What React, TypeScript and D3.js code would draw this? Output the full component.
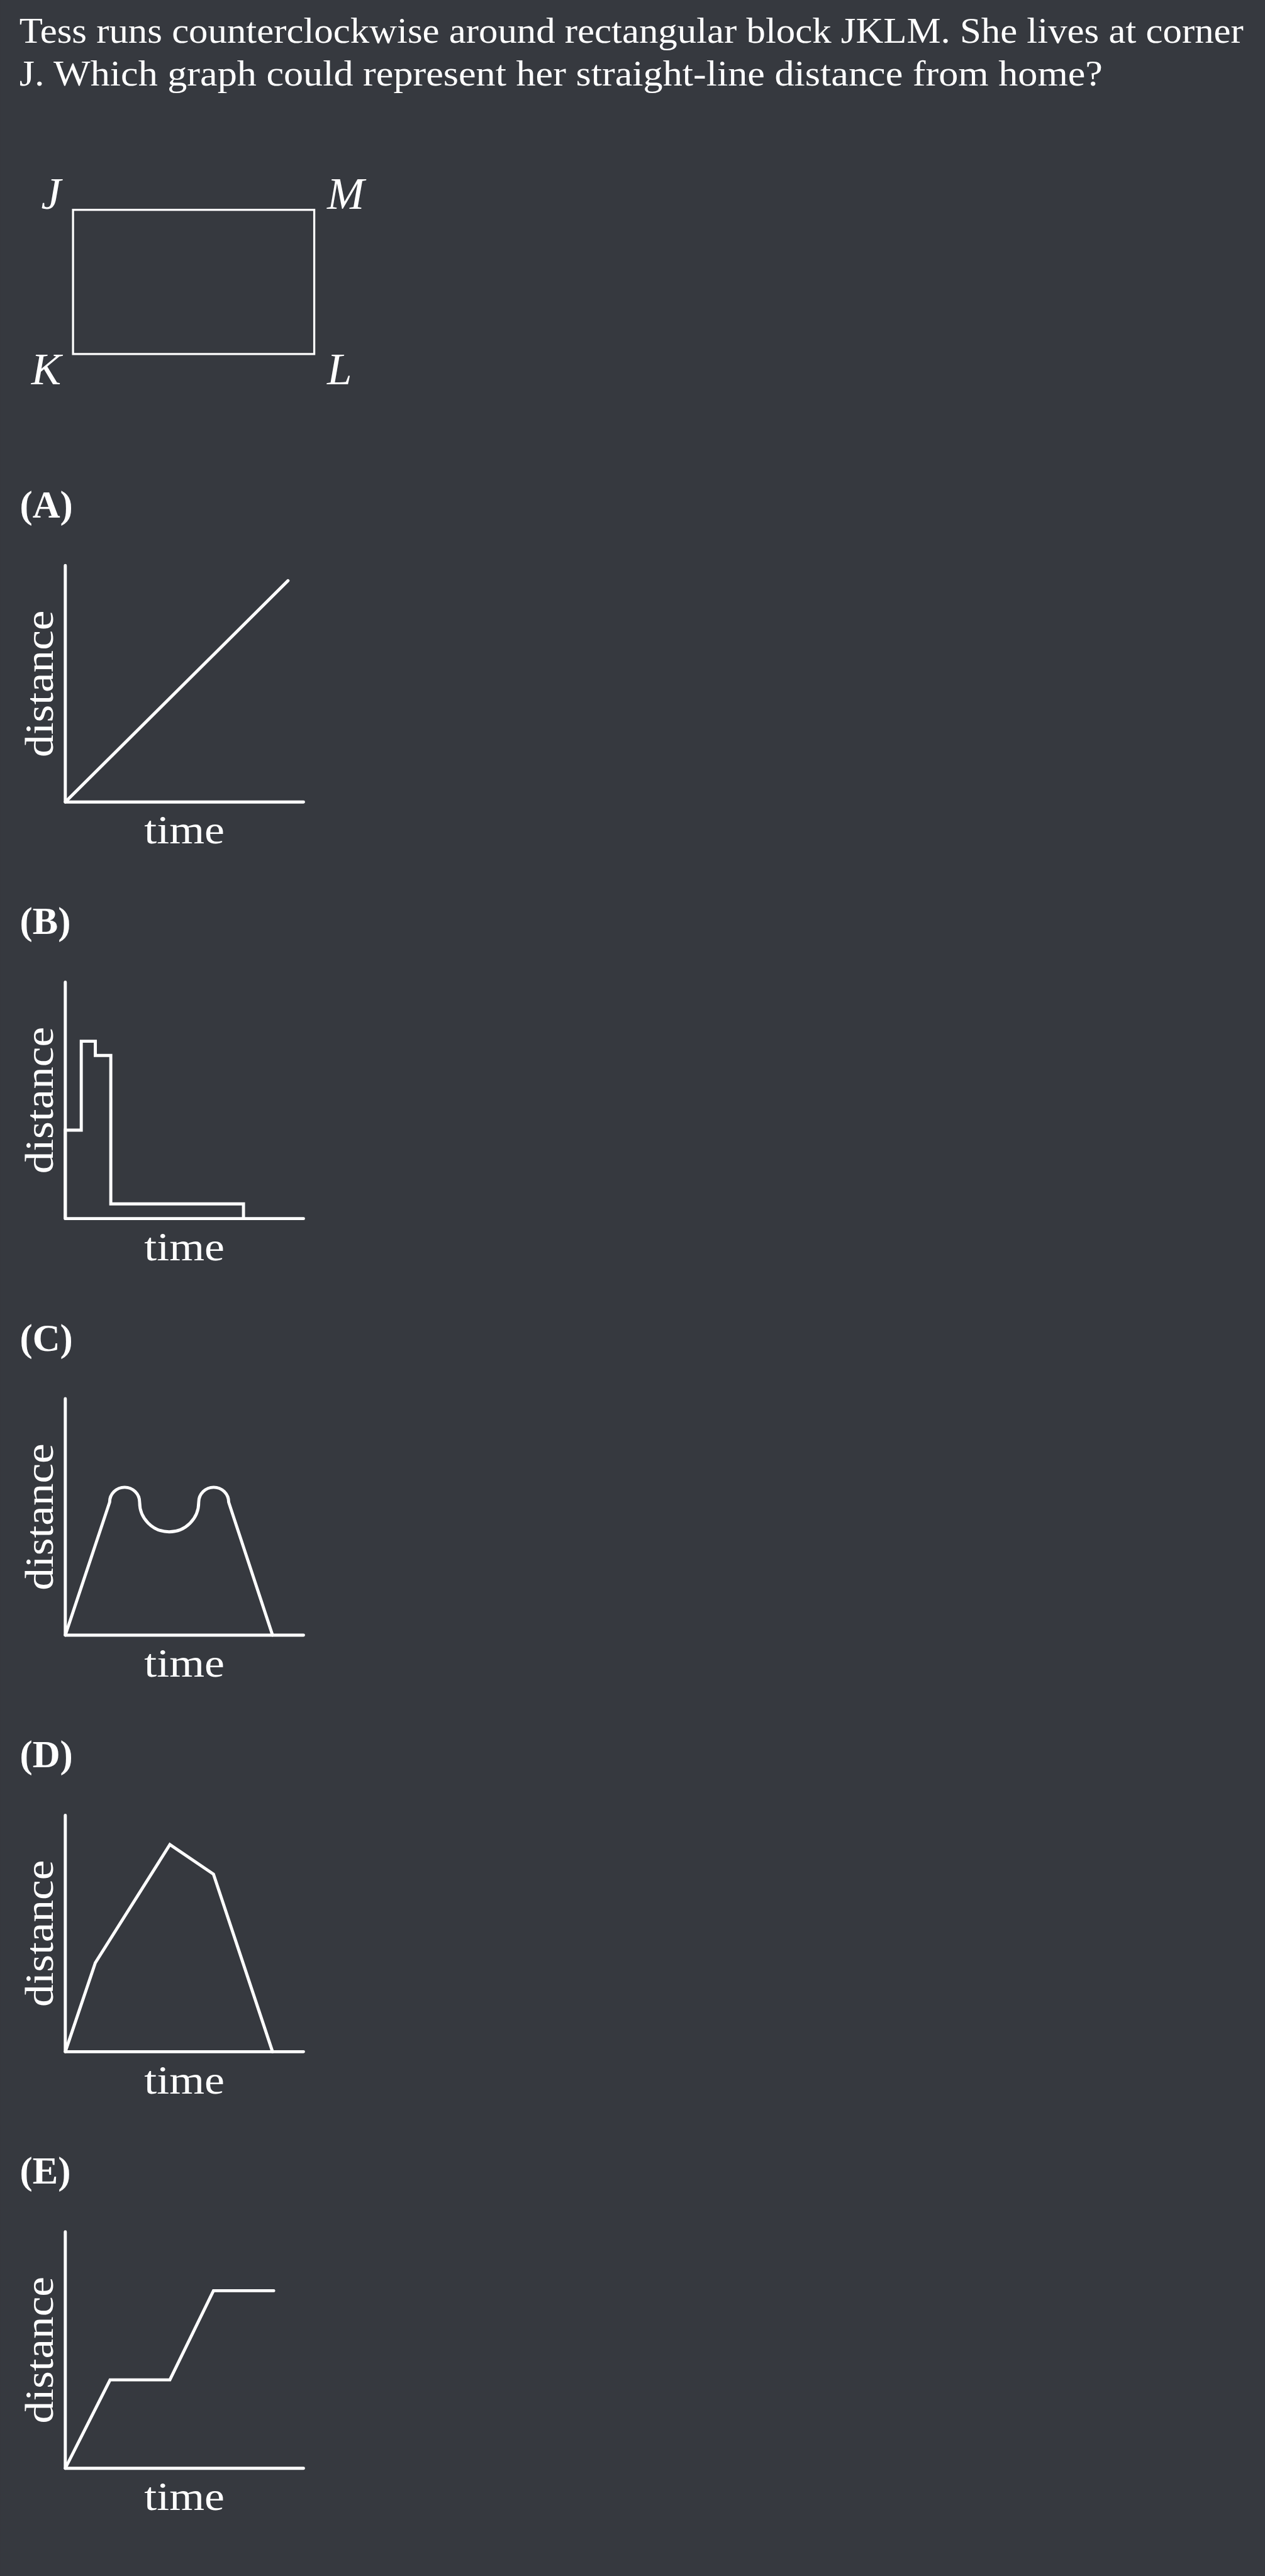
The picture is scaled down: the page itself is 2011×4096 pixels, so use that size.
import React, { useEffect } from 'react';
import * as d3 from 'd3';

// everything is laid out in the reference's own pixel space and scaled by the viewBox
const REF_W = 2947;
const REF_H = 6003;
const OUT_W = 2011;
const OUT_H = 4096;

const BG = '#36393f';
const INK = '#ffffff';
const FONT = '"Liberation Serif", "DejaVu Serif", serif';

const QUESTION = [
  'Tess runs counterclockwise around rectangular block JKLM. She lives at corner',
  'J. Which graph could represent her straight-line distance from home?',
];

// block corners, unit coordinates (x right, y up)
const CORNER_NAMES = ['J', 'K', 'L', 'M'];
const CORNER_UNIT = [[0, 1], [0, 0], [1, 0], [1, 1]];

const OPTIONS = ['(A)', '(B)', '(C)', '(D)', '(E)'];
const X_TITLE = 'time';
const Y_TITLE = 'distance';

// curves, in percent of axis length (time, distance)
const SERIES_A = [[0, 0], [93.5, 93.6]];
const SERIES_B = [
  [0, 0], [0, 37.4], [6.7, 37.4], [6.7, 75.0], [12.6, 75.0], [12.6, 69.0],
  [19.1, 69.0], [19.1, 6.2], [74.8, 6.2], [74.8, 0],
];
const C_RISE = [[0, 0], [18.6, 56.2]];
// semicircles sitting on the level of C_RISE's end point
const C_ARCS = [
  { from: 18.6, to: 31.2, bulge: 'up' },
  { from: 31.2, to: 56.0, bulge: 'down' },
  { from: 56.0, to: 68.6, bulge: 'up' },
];
const C_FALL = [[68.6, 56.2], [87.0, 0]];
const SERIES_D = [[0, 0], [12.6, 37.6], [43.9, 87.6], [62.2, 75.1], [87.0, 0]];
const SERIES_E = [[0, 0], [18.8, 37.4], [43.9, 37.4], [62.2, 75.1], [87.5, 75.1]];

const PANEL = { left: 152, width: 555, height: 551, firstTop: 1318, step: 970.75 };

function curvePath(i: number, x: d3.ScaleLinear<number, number>, y: d3.ScaleLinear<number, number>) {
  const line = d3.line<number[]>().x(d => x(d[0])).y(d => y(d[1]));
  if (i === 0) return line(SERIES_A);
  if (i === 1) return line(SERIES_B);
  if (i === 3) return line(SERIES_D);
  if (i === 4) return line(SERIES_E);

  const p = d3.path();
  p.moveTo(x(C_RISE[0][0]), y(C_RISE[0][1]));
  p.lineTo(x(C_RISE[1][0]), y(C_RISE[1][1]));
  const base = y(C_RISE[1][1]);
  C_ARCS.forEach(a => {
    const cx = (x(a.from) + x(a.to)) / 2;
    const r = (x(a.to) - x(a.from)) / 2;
    if (a.bulge === 'up') p.arc(cx, base, r, Math.PI, 2 * Math.PI, false);
    else p.arc(cx, base, r, Math.PI, 0, true);
  });
  p.lineTo(x(C_FALL[1][0]), y(C_FALL[1][1]));
  return p.toString();
}

export default function App() {
  useEffect(() => {
    document.body.style.margin = '0';
    document.body.style.background = BG;
  }, []);

  const bx = d3.scaleLinear().domain([0, 1]).range([170, 732]);
  const by = d3.scaleLinear().domain([0, 1]).range([825, 489]);

  return (
    <svg
      width={OUT_W}
      height={OUT_H}
      viewBox={`0 0 ${REF_W} ${REF_H}`}
      style={{ position: 'absolute', left: 0, top: 0, display: 'block' }}
    >
      <rect width={REF_W} height={REF_H} fill={BG} />

      {/* question */}
      <g fill={INK} fontFamily={FONT} fontSize={84}>
        <text x={45} y={99} textLength={2852} lengthAdjust="spacingAndGlyphs">{QUESTION[0]}</text>
        <text x={45} y={199} textLength={2524} lengthAdjust="spacingAndGlyphs">{QUESTION[1]}</text>
      </g>

      {/* block */}
      <rect
        x={bx(0)} y={by(1)} width={bx(1) - bx(0)} height={by(0) - by(1)}
        fill="none" stroke={INK} strokeWidth={4.8}
      />
      <g fill={INK} fontFamily={FONT} fontStyle="italic" fontSize={104}>
        {CORNER_NAMES.map((n, i) => {
          const [ux, uy] = CORNER_UNIT[i];
          const left = ux === 0;
          return (
            <text
              key={n}
              x={left ? bx(ux) - 28 : bx(ux) + 30}
              y={uy === 1 ? by(uy) - 2 : by(uy) + 70}
              textAnchor={left ? 'end' : 'start'}
            >{n}</text>
          );
        })}
      </g>

      {/* answer choices */}
      {OPTIONS.map((label, i) => {
        const top = PANEL.firstTop + i * PANEL.step;
        const x = d3.scaleLinear().domain([0, 100]).range([PANEL.left, PANEL.left + PANEL.width]);
        const y = d3.scaleLinear().domain([0, 100]).range([top + PANEL.height, top]);
        const [x0, x1] = x.range();
        const [y0, y1] = y.range();
        return (
          <g key={label}>
            <text x={46} y={top - 112} fill={INK} fontFamily={FONT} fontWeight="bold" fontSize={89}>{label}</text>
            <path
              d={`M${x0},${y1}V${y0}H${x1}`}
              fill="none" stroke={INK} strokeWidth={7.2} strokeLinecap="round" strokeLinejoin="round"
            />
            <path
              d={curvePath(i, x, y) || ''}
              fill="none" stroke={INK} strokeWidth={7.2} strokeLinecap="round" strokeLinejoin="miter"
            />
            <text
              x={(x0 + x1) / 2} y={y0 + 97}
              textAnchor="middle" fill={INK} fontFamily={FONT} fontSize={93}
              textLength={187} lengthAdjust="spacingAndGlyphs"
            >{X_TITLE}</text>
            <text
              transform={`translate(123, ${(y0 + y1) / 2}) rotate(-90)`}
              textAnchor="middle" fill={INK} fontFamily={FONT} fontSize={93}
              textLength={342} lengthAdjust="spacingAndGlyphs"
            >{Y_TITLE}</text>
          </g>
        );
      })}
    </svg>
  );
}
